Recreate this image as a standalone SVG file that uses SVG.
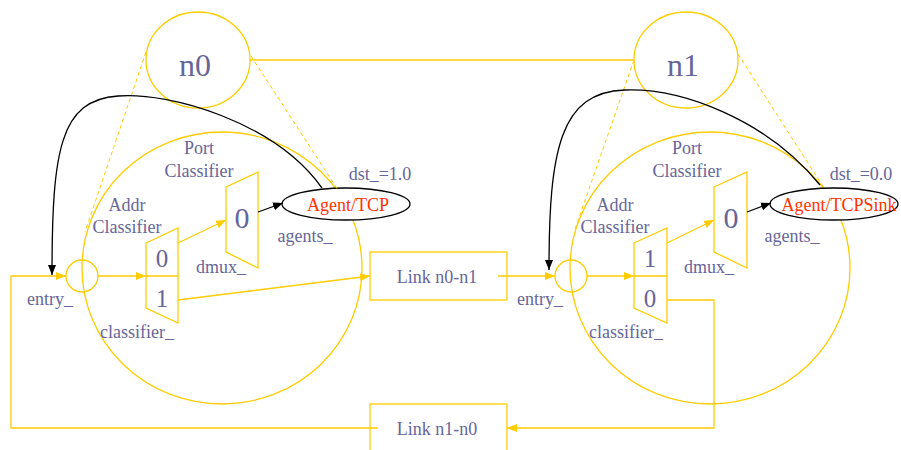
<svg xmlns="http://www.w3.org/2000/svg" width="901" height="450" viewBox="0 0 901 450" font-family="'Liberation Serif', 'Times New Roman', serif">
<defs>
<style>
.y{fill:none;stroke:#ffcc00;stroke-width:1.3}
.yd{fill:none;stroke:#ffcc00;stroke-width:1;stroke-dasharray:4,3}
.k{fill:none;stroke:#000;stroke-width:1.3}
text{font-family:'Liberation Serif','Times New Roman',serif}
.t{fill:#666699;text-anchor:middle}
.s18{font-size:18px}
.r{fill:#ff3300}
</style>
<marker id="ya" markerWidth="11" markerHeight="10" refX="10" refY="5" orient="auto" markerUnits="userSpaceOnUse"><path d="M0,1 L10,5 L0,9 z" fill="#ffcc00"/></marker>
<marker id="ka" markerWidth="11" markerHeight="10" refX="10" refY="5" orient="auto" markerUnits="userSpaceOnUse"><path d="M0,1 L10,5 L0,9 z" fill="#000"/></marker>
</defs>
<rect width="901" height="450" fill="#fff"/>

<g id="n0">
<ellipse class="y" cx="198" cy="60" rx="52" ry="48"/>
<text class="t" x="195" y="76" font-size="32">n0</text>
</g>
<g id="n1">
<ellipse class="y" cx="686" cy="60" rx="52" ry="48"/>
<text class="t" x="683" y="76" font-size="32">n1</text>
</g>

<g id="node0-detail">
<ellipse class="y" cx="222" cy="268" rx="140" ry="136"/>
<text class="t s18" x="199" y="154">Port</text>
<text class="t s18" x="199" y="177">Classifier</text>
<text class="t s18" x="127" y="211">Addr</text>
<text class="t s18" x="127" y="233">Classifier</text>
<text class="t s18" x="380" y="180">dst_=1.0</text>
<text class="t s18" x="50" y="305">entry_</text>
<text class="t s18" x="137" y="338">classifier_</text>
<text class="t s18" x="221" y="273">dmux_</text>
<text class="t s18" x="305" y="242">agents_</text>
</g>
<g id="entry0"><circle class="y" cx="82" cy="276" r="16"/></g>
<g id="classifier0">
<path class="y" d="M146,243 L178,228 L178,323 L146,308 Z M146,276 H178"/>
<text class="t" x="162" y="267" font-size="25">0</text>
<text class="t" x="162" y="307" font-size="25">1</text>
</g>
<g id="dmux0">
<path class="y" d="M226,187 L258,172 L258,268 L226,252 Z"/>
<text class="t" x="242" y="228" font-size="30">0</text>
</g>
<g id="agent0">
<ellipse cx="346" cy="204" rx="64" ry="16" fill="#fff" stroke="#000" stroke-width="1.3"/>
<text class="t s18 r" x="348" y="211">Agent/TCP</text>
</g>

<g id="node1-detail">
<ellipse class="y" cx="710" cy="268" rx="140" ry="136"/>
<text class="t s18" x="687" y="154">Port</text>
<text class="t s18" x="687" y="177">Classifier</text>
<text class="t s18" x="615" y="211">Addr</text>
<text class="t s18" x="615" y="233">Classifier</text>
<text class="t s18" x="861" y="180">dst_=0.0</text>
<text class="t s18" x="540" y="305">entry_</text>
<text class="t s18" x="626" y="338">classifier_</text>
<text class="t s18" x="709" y="273">dmux_</text>
<text class="t s18" x="792" y="242">agents_</text>
</g>
<g id="entry1"><circle class="y" cx="571" cy="276" r="16"/></g>
<g id="classifier1">
<path class="y" d="M634,243 L667,228 L667,323 L634,308 Z M634,276 H667"/>
<text class="t" x="650" y="267" font-size="25">1</text>
<text class="t" x="650" y="307" font-size="25">0</text>
</g>
<g id="dmux1">
<path class="y" d="M714,187 L747,172 L747,268 L714,252 Z"/>
<text class="t" x="731" y="228" font-size="30">0</text>
</g>
<g id="agent1">
<ellipse cx="834" cy="204" rx="64" ry="16" fill="#fff" stroke="#000" stroke-width="1.3"/>
<text class="t s18 r" x="839" y="211">Agent/TCPSink</text>
</g>

<g id="link01">
<rect class="y" x="370" y="252" width="137" height="48"/>
<text class="t s18" x="437" y="283">Link n0-n1</text>
</g>
<g id="link10">
<rect class="y" x="370" y="404" width="137" height="50"/>
<text class="t s18" x="437" y="435">Link n1-n0</text>
</g>

<g id="connectors">
<line class="y" x1="250" y1="60" x2="634" y2="60"/>
<line class="yd" x1="146" y1="52" x2="85" y2="232"/>
<line class="yd" x1="251" y1="56" x2="338" y2="190"/>
<line class="yd" x1="634" y1="60" x2="574" y2="232"/>
<line class="yd" x1="738" y1="54" x2="824" y2="188"/>

<path class="y" d="M378,428 H11 V276 H66" marker-end="url(#ya)"/>
<line class="y" x1="98" y1="276" x2="146" y2="276" marker-end="url(#ya)"/>
<line class="y" x1="178" y1="243" x2="226" y2="220" marker-end="url(#ya)"/>
<line class="y" x1="178" y1="300" x2="370" y2="276" marker-end="url(#ya)"/>
<line class="y" x1="498" y1="276" x2="555" y2="276" marker-end="url(#ya)"/>
<line class="y" x1="587" y1="276" x2="634" y2="276" marker-end="url(#ya)"/>
<line class="y" x1="667" y1="243" x2="714" y2="220" marker-end="url(#ya)"/>
<path class="y" d="M667,300 H714 V428 H507" marker-end="url(#ya)"/>

<line class="k" x1="258" y1="212" x2="283" y2="203" marker-end="url(#ka)"/>
<line class="k" x1="747" y1="212" x2="771" y2="203" marker-end="url(#ka)"/>
<path class="k" d="M322,188 C275,122 170,92 118,96 C60,100 52,150 52,275" marker-end="url(#ka)"/>
<path class="k" d="M820,185 C765,118 680,88 625,90 C560,92 549,150 549,270" marker-end="url(#ka)"/>
</g>
</svg>
